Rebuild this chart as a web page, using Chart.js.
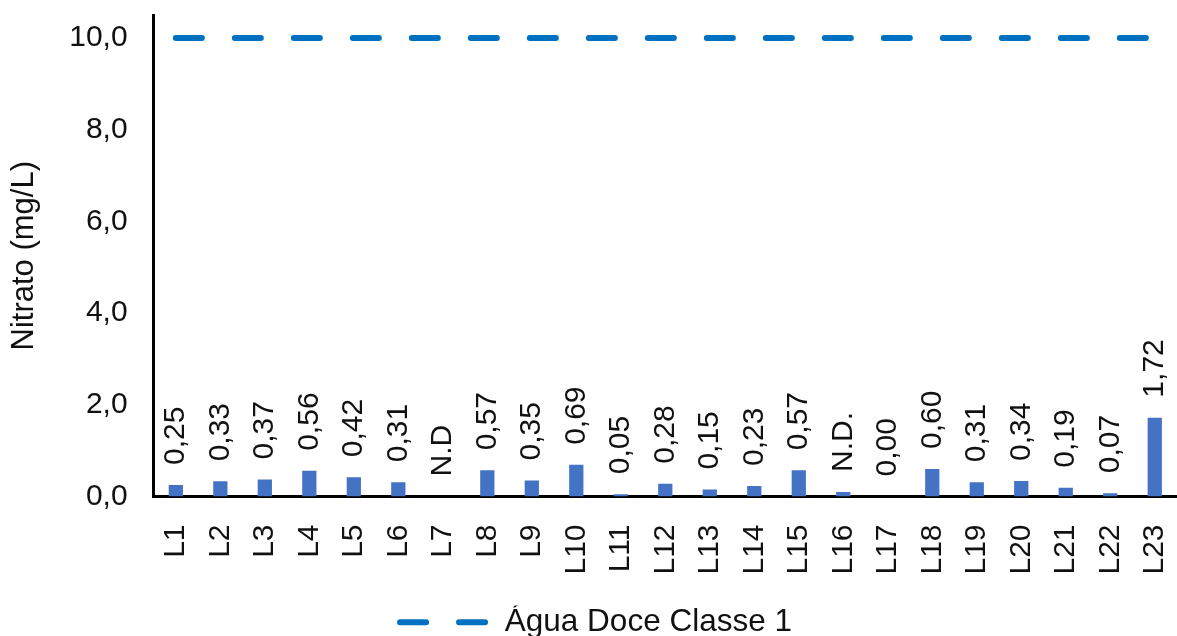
<!DOCTYPE html>
<html>
<head>
<meta charset="utf-8">
<title>Nitrato</title>
<script src="https://cdn.jsdelivr.net/npm/chart.js@4.4.1/dist/chart.umd.min.js"></script>
<style>
  html, body { margin: 0; padding: 0; background: #fff; }
  #wrap { width: 1177px; height: 636px; }
</style>
</head>
<body>
<div id="wrap"><canvas id="nitratoChart" width="1177" height="636"></canvas></div>
<script>
// categories (sampling points)
const pontos = ['L1','L2','L3','L4','L5','L6','L7','L8','L9','L10','L11','L12',
  'L13','L14','L15','L16','L17','L18','L19','L20','L21','L22','L23'];

// nitrate values (mg/L), null = no bar
const nitrato = [0.25, 0.33, 0.37, 0.56, 0.42, 0.31, null, 0.57, 0.35, 0.69, 0.05, 0.28,
  0.15, 0.23, 0.57, 0.10, 0.00, 0.60, 0.31, 0.34, 0.19, 0.07, 1.72];

// text written above each bar
const rotulos = ['0,25','0,33','0,37','0,56','0,42','0,31','N.D','0,57','0,35','0,69','0,05','0,28',
  '0,15','0,23','0,57','N.D.','0,00','0,60','0,31','0,34','0,19','0,07','1,72'];

// limit for fresh water class 1
const limiteClasse1 = pontos.map(() => 10.0);

const FONT = "'Liberation Sans', Arial, sans-serif";
const DASH = [26, 33];

// draws the rotated value labels above the bars
const barLabels = {
  id: 'barLabels',
  afterDatasetsDraw(chart) {
    const meta = chart.getDatasetMeta(0);
    const yScale = chart.scales.y;
    const ctx = chart.ctx;
    ctx.save();
    ctx.font = '30px ' + FONT;
    ctx.fillStyle = '#111';
    ctx.textAlign = 'left';
    ctx.textBaseline = 'middle';
    meta.data.forEach((bar, i) => {
      const v = nitrato[i];
      const top = v == null ? yScale.getPixelForValue(0) : bar.y;
      ctx.save();
      ctx.translate(bar.x, top - 20);
      ctx.rotate(-Math.PI / 2);
      ctx.fillText(rotulos[i], 0, 0);
      ctx.restore();
    });
    ctx.restore();
  }
};

const ctx = document.getElementById('nitratoChart').getContext('2d');
new Chart(ctx, {
  type: 'bar',
  data: {
    labels: pontos,
    datasets: [
      {
        label: 'Nitrato',
        data: nitrato,
        backgroundColor: '#4472C4',
        barPercentage: 0.64,
        categoryPercentage: 0.5,
        order: 2
      },
      {
        type: 'line',
        label: 'Água Doce Classe 1',
        data: limiteClasse1,
        borderColor: '#0070C0',
        backgroundColor: '#0070C0',
        borderWidth: 6,
        borderDash: DASH,
        borderCapStyle: 'round',
        pointRadius: 0,
        pointStyle: 'line',
        fill: false,
        order: 1
      }
    ]
  },
  options: {
    responsive: false,
    animation: false,
    layout: { padding: { top: 15, right: -9, bottom: -12, left: 6 } },
    plugins: {
      tooltip: { enabled: false },
      legend: {
        position: 'bottom',
        labels: {
          usePointStyle: true,
          pointStyleWidth: 89,
          color: '#111',
          font: { family: FONT, size: 31.5 },
          padding: 1,
          generateLabels: (chart) => {
            const items = Chart.defaults.plugins.legend.labels.generateLabels(chart);
            return items.filter(it => it.datasetIndex === 1).map(it => Object.assign(it, {
              lineDash: DASH,
              lineCap: 'round',
              lineWidth: 6,
              strokeStyle: '#0070C0'
            }));
          }
        }
      }
    },
    scales: {
      x: {
        grid: { display: false },
        border: { display: true, color: '#000', width: 3 },
        ticks: {
          color: '#111',
          font: { family: FONT, size: 30 },
          minRotation: 90,
          maxRotation: 90,
          padding: 20
        },
        afterFit: (scale) => {
          scale.height = 109;
          scale.paddingLeft = 0;
          scale.paddingRight = 0;
        }
      },
      y: {
        min: 0,
        max: 10.5,
        grid: { display: false, drawTicks: false },
        border: { display: true, color: '#000', width: 3 },
        ticks: {
          stepSize: 2,
          includeBounds: false,
          color: '#111',
          font: { family: FONT, size: 30 },
          padding: 26,
          callback: (v) => v.toFixed(1).replace('.', ',')
        },
        title: {
          display: true,
          text: 'Nitrato (mg/L)',
          color: '#111',
          font: { family: FONT, size: 31 },
          padding: { top: 0, bottom: 0 }
        },
        afterFit: (scale) => {
          scale.paddingTop = 0;
          scale.paddingBottom = 0;
        }
      }
    }
  },
  plugins: [barLabels]
});
</script>
</body>
</html>
